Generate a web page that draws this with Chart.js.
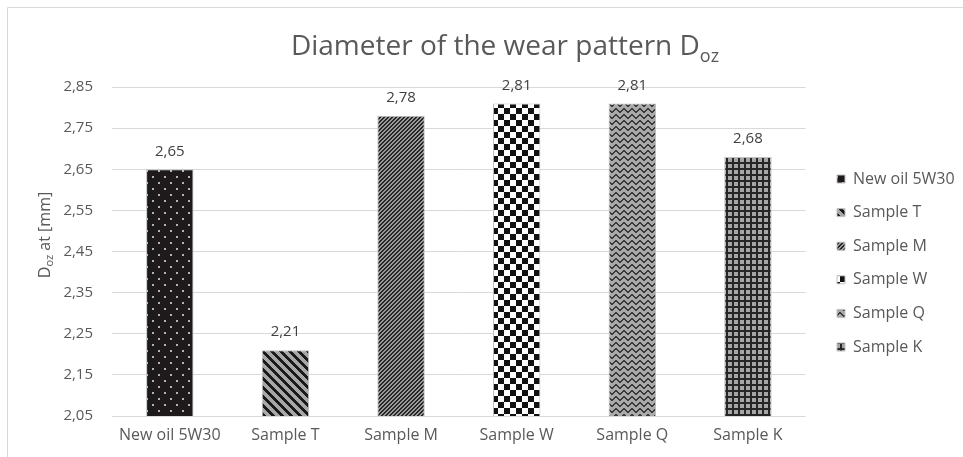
<!DOCTYPE html>
<html>
<head>
<meta charset="utf-8">
<script src="https://cdn.jsdelivr.net/npm/chart.js@4"></script>
<style>
  html, body { margin: 0; padding: 0; background: #fff; }
  #wrap { width: 963px; height: 457px; position: relative; }
</style>
</head>
<body>
<div id="wrap"><canvas id="chart"></canvas></div>
<script>
// data
const categories = ["New oil 5W30", "Sample T", "Sample M", "Sample W", "Sample Q", "Sample K"];
const wearDiameter = [2.65, 2.21, 2.78, 2.81, 2.81, 2.68];
const yTicks = [2.05, 2.15, 2.25, 2.35, 2.45, 2.55, 2.65, 2.75, 2.85];

const FONT = "'Open Sans', sans-serif";
const TEXT = "#595959";

// small tiles used as fill patterns
function tile(w, h, paint) {
    const c = document.createElement("canvas");
    c.width = w; c.height = h;
    const g = c.getContext("2d");
    paint(g, w, h);
    return g.createPattern(c, "repeat");
}
function pixels(g, w, h, bg, fg, test) {
    g.fillStyle = bg; g.fillRect(0, 0, w, h);
    g.fillStyle = fg;
    for (let y = 0; y < h; y++)
        for (let x = 0; x < w; x++)
            if (test(x, y)) g.fillRect(x, y, 1, 1);
}

const patterns = [
    // dots on black
    tile(12, 12, (g) => {
        g.fillStyle = "#1e1a1b"; g.fillRect(0, 0, 12, 12);
        g.fillStyle = "#b5b5b5";
        g.fillRect(2, 2, 2, 2); g.fillRect(8, 8, 2, 2);
    }),
    // wide downward diagonal
    tile(9, 9, (g, w, h) => pixels(g, w, h, "#a6a6a6", "#1a1a1a", (x, y) => ((x - y + 18) % 9) < 4)),
    // narrow upward diagonal
    tile(4, 4, (g, w, h) => pixels(g, w, h, "#9a9a9a", "#262626", (x, y) => ((x + y) % 4) < 2)),
    // checkerboard
    tile(12, 12, (g) => {
        g.fillStyle = "#ffffff"; g.fillRect(0, 0, 12, 12);
        g.fillStyle = "#111111";
        g.fillRect(0, 0, 6, 6); g.fillRect(6, 6, 6, 6);
    }),
    // waves
    tile(8, 6, (g, w, h) => {
        const wave = [0, 1, 2, 3, 3, 2, 1, 0];
        pixels(g, w, h, "#a9a9a9", "#3a3a3a", (x, y) => y === wave[x] || y === wave[x] + 1);
    }),
    // grid
    tile(6, 6, (g, w, h) => pixels(g, w, h, "#a6a6a6", "#262626", (x, y) => x < 2 || y < 2))
];

function fmt(v) {
    return v.toFixed(2).replace(".", ",");
}

// nudge the legend block to where the reference has it
const legendNudge = {
    id: "legendNudge",
    afterLayout(chart) {
        const lg = chart.legend;
        const dx = 837 - (lg.left + lg.options.labels.padding);
        lg.left += dx; lg.right += dx;
        lg.top -= 9; lg.bottom -= 9;
    }
};

// title, axis title with subscripts, value labels and frame
const decorations = {
    id: "decorations",
    afterDraw(chart) {
        const ctx = chart.ctx;
        ctx.save();

        // frame
        ctx.strokeStyle = "#d9d9d9";
        ctx.lineWidth = 1;
        ctx.beginPath();
        ctx.moveTo(7.5, 460); ctx.lineTo(7.5, 7.5); ctx.lineTo(970, 7.5);
        ctx.stroke();

        // chart title
        ctx.fillStyle = TEXT;
        ctx.textBaseline = "alphabetic";
        const main = "Diameter of the wear pattern D";
        ctx.font = "28px " + FONT;
        const w1 = ctx.measureText(main).width;
        ctx.font = "18px " + FONT;
        const w2 = ctx.measureText("oz").width;
        const x0 = 505 - (w1 + w2) / 2;
        ctx.font = "28px " + FONT;
        ctx.textAlign = "left";
        ctx.fillText(main, x0, 55);
        ctx.font = "18px " + FONT;
        ctx.fillText("oz", x0 + w1, 62);

        // y axis title
        ctx.translate(50, 235);
        ctx.rotate(-Math.PI / 2);
        ctx.font = "16px " + FONT;
        const a = ctx.measureText("D").width;
        ctx.font = "11px " + FONT;
        const b = ctx.measureText("oz").width;
        ctx.font = "16px " + FONT;
        const c = ctx.measureText(" at [mm]").width;
        let x = -(a + b + c) / 2;
        ctx.fillText("D", x, 0);
        ctx.font = "11px " + FONT;
        ctx.fillText("oz", x + a, 3);
        ctx.font = "16px " + FONT;
        ctx.fillText(" at [mm]", x + a + b, 0);
        ctx.setTransform(1, 0, 0, 1, 0, 0);

        // value labels
        const meta = chart.getDatasetMeta(0);
        ctx.font = "15px " + FONT;
        ctx.fillStyle = "#404040";
        ctx.textAlign = "center";
        ctx.textBaseline = "middle";
        meta.data.forEach((bar, i) => {
            ctx.fillText(fmt(wearDiameter[i]), bar.x, bar.y - 18);
        });
        ctx.restore();
    }
};

new Chart(document.getElementById("chart"), {
    type: "bar",
    data: {
        labels: categories,
        datasets: [{
            data: wearDiameter,
            backgroundColor: patterns,
            borderColor: "#bfbfbf",
            borderWidth: 1,
            categoryPercentage: 1,
            barPercentage: 0.41
        }]
    },
    options: {
        responsive: true,
        maintainAspectRatio: false,
        animation: false,
        devicePixelRatio: 1,
        layout: { padding: { top: 87, left: 8, right: 12, bottom: 0 } },
        plugins: {
            title: { display: false },
            tooltip: { enabled: false },
            legend: {
                position: "right",
                align: "center",
                labels: {
                    font: { family: FONT, size: 16 },
                    color: TEXT,
                    boxWidth: 8,
                    boxHeight: 8,
                    padding: 17.6,
                    generateLabels: () => categories.map((name, i) => ({
                        text: name,
                        fillStyle: patterns[i],
                        strokeStyle: "#bfbfbf",
                        lineWidth: 1,
                        fontColor: TEXT,
                        index: i
                    }))
                }
            }
        },
        scales: {
            x: {
                grid: { display: false, drawTicks: false },
                border: { display: false },
                afterFit: (scale) => { scale.height = 41; },
                ticks: { font: { family: FONT, size: 16 }, color: TEXT, padding: 10 }
            },
            y: {
                min: yTicks[0],
                max: yTicks[yTicks.length - 1],
                afterBuildTicks: (scale) => { scale.ticks = yTicks.map(v => ({ value: v })); },
                afterFit: (scale) => { scale.width = 104; },
                grid: { color: "#d9d9d9", drawTicks: false },
                border: { display: false },
                ticks: {
                    font: { family: FONT, size: 15 },
                    color: TEXT,
                    padding: 19,
                    callback: (v) => fmt(v)
                }
            }
        }
    },
    plugins: [legendNudge, decorations]
});
</script>
</body>
</html>
